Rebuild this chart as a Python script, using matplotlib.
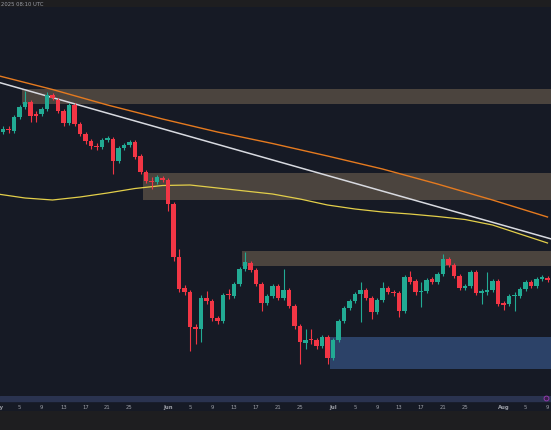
import datetime as dt
import matplotlib
matplotlib.use("Agg")
import matplotlib.pyplot as plt
from matplotlib.patches import Rectangle
import numpy as np

# ---------------- data ----------------
start_date = dt.date(2025, 5, 1)
day_offsets = list(range(1, 101))  # daily candles, offset from May 1

opens = [2.67, 2.70, 2.68, 2.82, 2.92, 2.97, 2.85, 2.85, 2.90, 3.04,
         2.99, 2.88, 2.76, 2.94, 2.75, 2.65, 2.58, 2.53, 2.52, 2.59,
         2.60, 2.38, 2.51, 2.54, 2.57, 2.43, 2.27, 2.18, 2.17, 2.21,
         2.19, 1.95, 1.42, 1.11, 1.07, 0.72, 0.70, 1.01, 0.98, 0.81,
         0.78, 1.05, 1.03, 1.15, 1.30, 1.36, 1.29, 1.15, 0.96, 1.03,
         1.13, 1.01, 1.09, 0.93, 0.73, 0.56, 0.60, 0.59, 0.53, 0.62,
         0.41, 0.59, 0.78, 0.91, 0.98, 1.05, 1.09, 1.01, 0.87, 0.99,
         1.11, 1.07, 1.06, 0.88, 1.22, 1.18, 1.07, 1.08, 1.20, 1.17,
         1.25, 1.40, 1.34, 1.23, 1.11, 1.13, 1.27, 1.06, 1.07, 1.09,
         1.18, 0.96, 0.95, 1.03, 1.03, 1.10, 1.17, 1.13, 1.20, 1.21]
highs = [2.73, 2.73, 2.84, 2.94, 3.08, 2.99, 2.88, 2.92, 3.07, 3.06,
         3.01, 2.90, 2.96, 2.96, 2.77, 2.67, 2.60, 2.56, 2.61, 2.63,
         2.62, 2.53, 2.56, 2.59, 2.59, 2.45, 2.29, 2.22, 2.24, 2.23,
         2.21, 1.97, 1.50, 1.14, 1.09, 0.75, 1.04, 1.08, 1.00, 0.83,
         1.06, 1.10, 1.17, 1.32, 1.47, 1.38, 1.31, 1.17, 1.05, 1.15,
         1.15, 1.30, 1.11, 0.95, 0.75, 0.70, 0.70, 0.61, 0.64, 0.64,
         0.61, 0.80, 0.93, 1.00, 1.07, 1.17, 1.11, 1.03, 1.01, 1.17,
         1.13, 1.09, 1.08, 1.24, 1.28, 1.20, 1.17, 1.21, 1.22, 1.27,
         1.45, 1.42, 1.36, 1.25, 1.15, 1.29, 1.29, 1.10, 1.27, 1.20,
         1.20, 0.98, 1.05, 1.07, 1.12, 1.19, 1.19, 1.22, 1.24, 1.23]
lows = [2.65, 2.66, 2.66, 2.80, 2.90, 2.77, 2.77, 2.83, 2.88, 2.99,
        2.86, 2.73, 2.74, 2.73, 2.63, 2.55, 2.50, 2.49, 2.50, 2.57,
        2.25, 2.36, 2.49, 2.52, 2.40, 2.25, 2.16, 2.10, 2.15, 2.17,
        1.88, 1.38, 1.07, 1.04, 0.48, 0.55, 0.57, 0.95, 0.78, 0.75,
        0.76, 1.00, 1.01, 1.13, 1.28, 1.27, 1.13, 0.88, 0.94, 1.01,
        0.99, 0.99, 0.91, 0.70, 0.35, 0.50, 0.55, 0.50, 0.51, 0.35,
        0.39, 0.57, 0.76, 0.89, 0.96, 0.77, 0.99, 0.80, 0.85, 0.97,
        1.05, 1.03, 0.82, 0.86, 1.15, 1.04, 0.92, 1.06, 1.15, 1.15,
        1.23, 1.32, 1.21, 1.09, 1.09, 1.11, 1.04, 0.95, 1.04, 1.07,
        0.93, 0.89, 0.93, 0.88, 1.01, 1.08, 1.11, 1.11, 1.18, 1.17]
closes = [2.70, 2.69, 2.82, 2.92, 2.97, 2.83, 2.83, 2.90, 3.04, 3.01,
          2.88, 2.76, 2.94, 2.75, 2.65, 2.58, 2.53, 2.52, 2.59, 2.61,
          2.38, 2.51, 2.54, 2.57, 2.42, 2.27, 2.18, 2.17, 2.22, 2.19,
          1.95, 1.42, 1.10, 1.07, 0.72, 0.70, 1.01, 0.98, 0.81, 0.78,
          1.04, 1.04, 1.15, 1.30, 1.37, 1.29, 1.15, 0.96, 1.03, 1.13,
          1.01, 1.09, 0.93, 0.73, 0.57, 0.59, 0.59, 0.53, 0.62, 0.41,
          0.59, 0.78, 0.91, 0.98, 1.05, 1.09, 1.01, 0.87, 0.99, 1.11,
          1.07, 1.06, 0.88, 1.22, 1.17, 1.07, 1.08, 1.19, 1.17, 1.25,
          1.40, 1.34, 1.23, 1.11, 1.13, 1.27, 1.06, 1.08, 1.09, 1.18,
          0.95, 0.94, 1.03, 1.04, 1.10, 1.17, 1.13, 1.20, 1.22, 1.19]

# moving averages sampled every few days (day offset, price)
orange_ma_days = [0, 10, 20, 30, 40, 50, 60, 70, 80, 90, 100]
orange_ma_vals = [3.235, 3.095, 2.94, 2.80, 2.67, 2.555, 2.43, 2.30, 2.15, 1.99, 1.82]
yellow_ma_days = [0, 5, 10, 15, 20, 25, 30, 35, 40, 45, 50, 55, 60, 65, 70,
                  75, 80, 85, 90, 95, 100]
yellow_ma_vals = [2.05, 2.01, 1.99, 2.02, 2.06, 2.105, 2.135, 2.14, 2.11, 2.08,
                  2.05, 2.00, 1.94, 1.90, 1.87, 1.85, 1.825, 1.795, 1.74, 1.65, 1.56]

# descending trendline endpoints
trend_days = [0, 102]
trend_vals = [3.17, 1.58]

# supply / demand zones: (start day offset, low price, high price)
zone_starts = [4.5, 26.5, 44.5, 60.5]
zone_lows = [2.95, 1.99, 1.33, 0.30]
zone_highs = [3.10, 2.26, 1.48, 0.62]
zone_kinds = ["supply", "supply", "supply", "demand"]

tick_days = [0, 4, 8, 12, 16, 20, 24, 31, 35, 39, 43, 47, 51, 55,
             61, 65, 69, 73, 77, 81, 85, 92, 96, 100]
tick_labels = ["May", "5", "9", "13", "17", "21", "25", "Jun", "5", "9", "13",
               "17", "21", "25", "Jul", "5", "9", "13", "17", "21", "25",
               "Aug", "5", "9"]
header_text = "2025 08:10 UTC"

# ---------------- style ----------------
BG = "#161a25"
OUTER = "#1e1e20"
UP = "#22ab94"
DOWN = "#f23645"
SUPPLY = "#4b443e"
DEMAND = "#2c4268"
TXT = "#9a9da6"


def bare(a):
    a.set_xticks([])
    a.set_yticks([])
    for s in a.spines.values():
        s.set_visible(False)


W, H = 551, 431
fig = plt.figure(figsize=(W / 100, H / 100), dpi=100, facecolor=OUTER)

top_px, bot_px, axis_bot_px = 8, 397, 412
ax = fig.add_axes([0, (H - bot_px) / H, 1, (bot_px - top_px) / H])
ax.set_facecolor(BG)
bare(ax)
xmin, xmax = 0.4545, 100.636
ax.set_xlim(xmin, xmax)
ax.set_ylim(4 - bot_px / 100, 4 - top_px / 100)

# zones
for s, lo, hi, kind in zip(zone_starts, zone_lows, zone_highs, zone_kinds):
    ax.add_patch(Rectangle((s, lo), xmax + 5 - s, hi - lo,
                           facecolor=SUPPLY if kind == "supply" else DEMAND,
                           edgecolor="none", zorder=1))

# lines
ax.plot(orange_ma_days, orange_ma_vals, color="#e57a1f", lw=1.0, zorder=2)
ax.plot(yellow_ma_days, yellow_ma_vals, color="#e3cf4a", lw=0.9, zorder=2)
ax.plot(trend_days, trend_vals, color="#d8dae0", lw=1.1, zorder=2)

# candles
o = np.array(opens); c = np.array(closes)
hi_ = np.array(highs); lo_ = np.array(lows)
x = np.array(day_offsets, dtype=float)
cols = np.where(c >= o, UP, DOWN)
ax.vlines(x, lo_, hi_, colors=cols, lw=0.8, zorder=3)
body_lo = np.minimum(o, c)
body_h = np.maximum(np.abs(c - o), 0.015)
ax.bar(x, body_h, bottom=body_lo, width=0.74, color=cols, edgecolor="none", zorder=4)

# time axis
axt = fig.add_axes([0, (H - axis_bot_px) / H, 1, (axis_bot_px - bot_px) / H])
axt.set_facecolor(BG)
bare(axt)
axt.set_xlim(xmin, xmax)
axt.set_ylim(0, 1)
axt.axhspan(0.64, 1.0, color="#2a3350", zorder=1)
for d, lab in zip(tick_days, tick_labels):
    axt.text(d, 0.32, lab, fontsize=3.8, color=TXT, ha="center", va="center",
             fontweight="bold" if not lab.isdigit() else "normal")
axt.plot([0.991], [0.87], marker="o", markersize=3.5, markerfacecolor="#3a1f4a",
         markeredgecolor="#9c3fb8", markeredgewidth=0.6,
         transform=axt.transAxes, clip_on=False, zorder=5)

fig.text(0.002, 1 - 4.5 / H, header_text, fontsize=3.8, color=TXT, ha="left", va="center")

fig.savefig("out.png", dpi=100, facecolor=OUTER)
